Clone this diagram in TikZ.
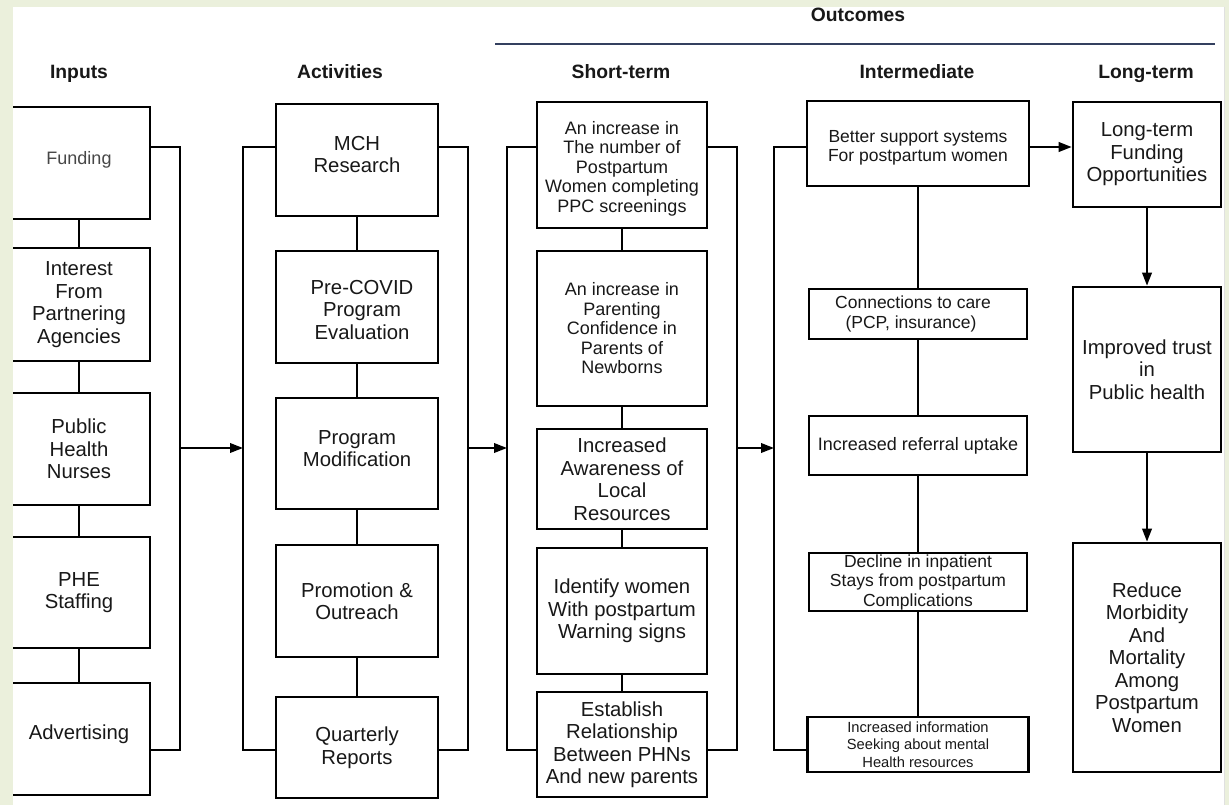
\documentclass[tikz,border=0pt]{standalone}
\usepackage{fontspec}
\setmainfont{Liberation Sans}
\usetikzlibrary{arrows.meta}
\definecolor{bg}{HTML}{EBF0DC}
\definecolor{txt}{HTML}{181818}
\definecolor{navy}{HTML}{34405F}
\newcommand{\tshift}[2]{\raisebox{\dimexpr -#1 - 0.37em\relax}[0pt][0pt]{\begin{tabular}{@{}c@{}}#2\end{tabular}}}
\tikzset{
 box/.style={draw=black, line width=2.6pt, fill=white, align=center, inner sep=0pt, text=txt, font=\fontsize{20.3}{22.5}\selectfont},
 conn/.style={draw=black, line width=2.6pt},
 arr/.style={draw=black, line width=2.1pt, -{Triangle[length=13pt,width=9.5pt]}},
 hdr/.style={font=\bfseries\fontsize{19.3}{21}\selectfont, text=txt, inner sep=0pt, anchor=base},
 sm/.style={font=\fontsize{18}{19.5}\selectfont},
 mid/.style={font=\fontsize{17.5}{19.5}\selectfont},
 tiny/.style={font=\fontsize{14.7}{17.5}\selectfont},
}
\begin{document}
\begin{tikzpicture}[x=1pt,y=-1pt]
\useasboundingbox (0,0) rectangle (1229,805);
\fill[bg] (0,0) rectangle (1229,805);
\fill[white] (13,7) rectangle (1224,805);
\draw[black!12, line width=0.6pt] (1224,7) -- (1224,805);

% headers
\node[hdr] (hOut) at (858,21.5) {Outcomes};
\coordinate (oL) at (495,44);
\coordinate (oR) at (1215,44);
\draw[navy, line width=2pt] (oL) -- (oR);
\node[hdr] (hIn) at (79,79) {Inputs};
\node[hdr] (hAct) at (340,79) {Activities};
\node[hdr] (hSt) at (621,79) {Short-term};
\node[hdr] (hInt) at (917,79) {Intermediate};
\node[hdr] (hLt) at (1146,79) {Long-term};

% inputs
\node[box, minimum width=142pt, minimum height=112pt, font=\fontsize{18}{21}\selectfont, text=black!72] (fund) at (79,163) {\tshift{-5pt}{Funding}};
\node[box, minimum width=142pt, minimum height=113pt] (inter) at (79,304.5) {Interest\\From\\Partnering\\Agencies};
\node[box, minimum width=142pt, minimum height=112pt] (phn) at (79,449) {Public\\Health\\Nurses};
\node[box, minimum width=142pt, minimum height=111pt] (phe) at (79,592.5) {PHE\\Staffing};
\node[box, minimum width=142pt, minimum height=112pt] (adv) at (79,739) {\tshift{-6pt}{Advertising}};
\draw[conn] (fund) -- (inter);
\draw[conn] (inter) -- (phn);
\draw[conn] (phn) -- (phe);
\draw[conn] (phe) -- (adv);
\coordinate (inT) at (180,147);
\coordinate (inB) at (180,750);
\coordinate (inA) at (180,448);
\draw[conn] (fund.east |- inT) -- (inT) -- (inB) -- (adv.east |- inB);

% activities
\node[box, minimum width=162pt, minimum height=112pt] (mch) at (357,160) {\tshift{-5.5pt}{MCH\\Research}};
\node[box, minimum width=162pt, minimum height=112pt] (pre) at (357,307) {\tshift{3pt}{\hspace*{10pt}Pre-COVID\\\hspace*{10pt}Program\\\hspace*{10pt}Evaluation}};
\node[box, minimum width=162pt, minimum height=111pt] (mod) at (357,453.5) {\tshift{-5pt}{Program\\Modification}};
\node[box, minimum width=162pt, minimum height=112pt] (pro) at (357,601) {Promotion \&\\Outreach};
\node[box, minimum width=162pt, minimum height=101pt] (qr) at (357,747.5) {Quarterly\\Reports};
\draw[conn] (mch) -- (pre);
\draw[conn] (pre) -- (mod);
\draw[conn] (mod) -- (pro);
\draw[conn] (pro) -- (qr);
\coordinate (aLT) at (243,147);
\coordinate (aLB) at (243,750);
\coordinate (aLA) at (243,448);
\coordinate (aRT) at (468,147);
\coordinate (aRB) at (468,750);
\coordinate (aRA) at (468,448);
\draw[conn] (mch.west |- aLT) -- (aLT) -- (aLB) -- (qr.west |- aLB);
\draw[conn] (mch.east |- aRT) -- (aRT) -- (aRB) -- (qr.east |- aRB);
\draw[arr] (inA) -- (aLA);

% short-term
\node[box, sm, minimum width=170pt, minimum height=126pt] (s1) at (622,165) {\tshift{2pt}{An increase in\\The number of\\Postpartum\\Women completing\\PPC screenings}};
\node[box, sm, minimum width=170pt, minimum height=155pt] (s2) at (622,328.5) {An increase in\\Parenting\\Confidence in\\Parents of\\Newborns};
\node[box, minimum width=170pt, minimum height=100pt] (s3) at (622,479) {Increased\\Awareness of\\Local\\Resources};
\node[box, minimum width=170pt, minimum height=126pt] (s4) at (622,611) {Identify women\\With postpartum\\Warning signs};
\node[box, minimum width=170pt, minimum height=105pt] (s5) at (622,744.5) {Establish\\Relationship\\Between PHNs\\And new parents};
\draw[conn] (s1) -- (s2);
\draw[conn] (s2) -- (s3);
\draw[conn] (s3) -- (s4);
\draw[conn] (s4) -- (s5);
\coordinate (sLT) at (507,147);
\coordinate (sLB) at (507,750);
\coordinate (sLA) at (507,448);
\coordinate (sRT) at (737,147);
\coordinate (sRB) at (737,750);
\coordinate (sRA) at (737,448);
\draw[conn] (s1.west |- sLT) -- (sLT) -- (sLB) -- (s5.west |- sLB);
\draw[conn] (s1.east |- sRT) -- (sRT) -- (sRB) -- (s5.east |- sRB);
\draw[arr] (aRA) -- (sLA);

% intermediate
\node[box, mid, minimum width=222pt, minimum height=85pt] (i1) at (918,143.5) {\tshift{2.5pt}{Better support systems\\For postpartum women}};
\node[box, mid, minimum width=218pt, minimum height=50pt] (i2) at (918,314) {Connections to care\hspace*{10pt}\\(PCP, insurance)\hspace*{14pt}};
\node[box, font=\fontsize{18}{20}\selectfont, minimum width=218pt, minimum height=59pt] (i3) at (918,445.5) {Increased referral uptake};
\node[box, mid, minimum width=218pt, minimum height=58pt] (i4) at (918,582) {Decline in inpatient\\Stays from postpartum\\Complications};
\node[box, tiny, minimum width=221pt, minimum height=55pt] (i5) at (918,744.5) {Increased information\\Seeking about mental\\Health resources};
\draw[conn] (i1) -- (i2);
\draw[conn] (i2) -- (i3);
\draw[conn] (i3) -- (i4);
\draw[conn] (i4) -- (i5);
\coordinate (iLT) at (774,147);
\coordinate (iLB) at (774,750);
\coordinate (iLA) at (774,448);
\draw[conn] (i1.west |- iLT) -- (iLT) -- (iLB) -- (i5.west |- iLB);
\draw[arr] (sRA) -- (iLA);

% long-term
\node[box, minimum width=148pt, minimum height=105pt] (l1) at (1147,154.5) {Long-term\\Funding\\Opportunities};
\node[box, minimum width=148pt, minimum height=165pt] (l2) at (1147,369.5) {Improved trust\\in\\Public health};
\node[box, minimum width=148pt, minimum height=229pt] (l3) at (1147,657.5) {Reduce\\Morbidity\\And\\Mortality\\Among\\Postpartum\\Women};
\coordinate (iA) at (918,147);
\draw[arr] (i1.east |- iA) -- (l1.west |- iA);
\draw[arr] (l1) -- (l2);
\draw[arr] (l2) -- (l3);

% left page band over cut boxes
\fill[bg] (0,0) rectangle (13,805);
\end{tikzpicture}
\end{document}
